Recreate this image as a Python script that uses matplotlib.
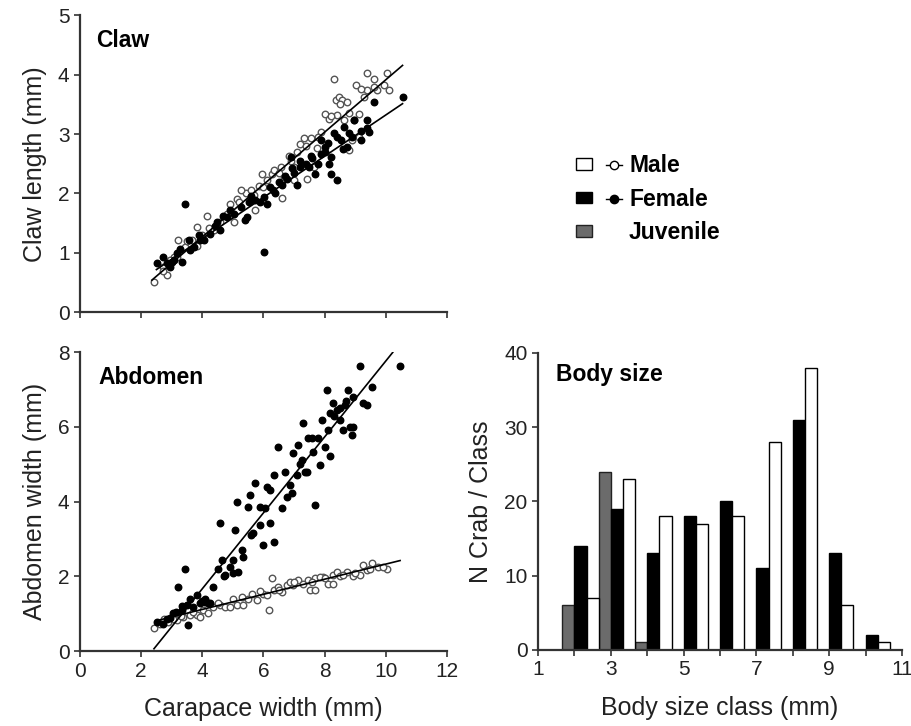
import numpy as np
import matplotlib
matplotlib.use('Agg')
import matplotlib.pyplot as plt
from matplotlib.patches import Patch
from matplotlib.lines import Line2D
from matplotlib.legend_handler import HandlerTuple

plt.rcParams['font.family'] = ['Liberation Sans', 'DejaVu Sans']

# claw length vs carapace width
claw_male_x = [2.43, 2.84, 2.73, 3.22, 3.06, 3.44, 3.83, 4.15, 4.21, 4.59, 4.92, 5.14, 5.03, 5.44, 5.74,
               5.85, 6.12, 6.28, 6.61, 6.56, 6.83, 7.0, 7.21, 7.32, 7.54, 7.43, 7.65, 7.87, 8.03, 8.14,
               8.31, 8.36, 8.47, 8.58, 8.74, 8.42, 8.63, 8.8, 8.96, 9.02, 9.13, 9.29, 9.40, 9.62, 9.40,
               9.73, 10.05, 10.11, 9.95, 8.91, 9.13, 7.76, 7.0, 6.67, 6.34, 5.96, 5.68, 5.25, 4.81, 4.37,
               3.83, 3.66, 3.17, 2.95,
               5.2, 5.6, 6.0, 6.5, 6.9, 7.1, 7.4, 7.8, 8.2, 8.5, 8.8, 9.2, 9.6, 4.0, 3.5, 2.7]
claw_male_y = [0.51, 0.62, 0.76, 1.22, 0.93, 1.10, 1.11, 1.62, 1.41, 1.52, 1.82, 1.91, 1.52, 2.01, 1.72,
               2.13, 2.22, 2.33, 1.93, 2.45, 2.63, 2.45, 2.84, 2.94, 2.94, 2.25, 2.45, 3.04, 3.34, 3.26,
               3.93, 3.57, 3.63, 3.57, 3.54, 3.32, 3.23, 2.73, 3.23, 3.82, 3.34, 3.63, 4.03, 3.93, 3.74,
               3.74, 4.03, 3.74, 3.82, 2.90, 2.95, 2.76, 2.22, 2.28, 2.39, 2.33, 1.97, 2.05, 1.66, 1.38,
               1.44, 1.21, 0.93, 0.88,
               1.85, 2.05, 2.10, 2.35, 2.55, 2.70, 2.80, 2.95, 3.30, 3.50, 3.35, 3.75, 3.80, 1.30, 1.20, 0.70]
claw_female_x = [2.51, 2.73, 2.95, 3.17, 3.33, 3.44, 3.55, 3.72, 4.04, 4.26, 4.48, 4.68, 4.92, 5.03, 5.25,
                 5.41, 5.52, 5.74, 6.01, 6.01, 6.12, 6.23, 6.39, 6.61, 6.78, 6.94, 7.1, 7.21, 7.38, 7.54,
                 7.70, 7.87, 8.03, 8.14, 8.20, 8.42, 8.31, 8.53, 8.63, 8.80, 8.96, 8.74, 9.18, 9.40, 9.45,
                 9.62, 10.55, 8.20, 7.87, 6.89, 5.46, 4.59, 3.93, 2.84, 3.06, 3.28,
                 5.6, 5.9, 6.3, 6.5, 6.7, 7.0, 7.2, 7.5, 7.6, 7.8, 8.0, 8.1, 8.4, 8.6, 8.9, 9.2, 9.4,
                 4.8, 4.4, 3.9, 3.6, 3.0]
claw_female_y = [0.82, 0.93, 0.76, 0.99, 0.85, 1.82, 1.22, 1.10, 1.21, 1.32, 1.52, 1.62, 1.72, 1.66, 1.77,
                 1.55, 1.86, 1.89, 1.94, 1.02, 1.82, 2.11, 2.00, 2.14, 2.25, 2.42, 2.14, 2.45, 2.50, 2.63,
                 2.33, 2.67, 2.78, 2.50, 2.33, 2.22, 3.01, 2.90, 3.12, 3.01, 3.23, 2.78, 2.90, 3.23, 3.04,
                 3.54, 3.63, 2.62, 2.90, 2.62, 1.60, 1.38, 1.21, 0.82, 0.88, 1.07,
                 1.95, 1.85, 2.05, 2.20, 2.30, 2.35, 2.55, 2.45, 2.60, 2.50, 2.70, 2.85, 2.95, 2.75, 2.95,
                 3.05, 3.10, 1.60, 1.45, 1.30, 1.05, 0.85]

# abdomen width vs carapace width
abd_female_x = [2.51, 2.73, 2.84, 3.05, 3.22, 3.33, 3.44, 3.49, 3.60, 3.82, 3.93, 4.09, 4.25, 4.36, 4.53,
                4.58, 4.63, 4.74, 4.91, 5.07, 5.13, 5.18, 5.29, 5.34, 5.51, 5.56, 5.67, 5.73, 5.89, 6.00,
                6.05, 6.11, 6.22, 6.33, 6.33, 6.49, 6.60, 6.71, 6.76, 6.92, 6.98, 7.09, 7.14, 7.25, 7.31,
                7.36, 7.47, 7.63, 7.69, 7.80, 7.91, 7.85, 8.02, 8.07, 8.18, 8.18, 8.29, 8.40, 8.51, 8.67,
                8.78, 8.83, 8.89, 8.94, 9.16, 9.27, 9.38, 9.54, 10.47, 8.94, 8.61, 8.12, 7.41, 6.87, 5.89,
                5.02, 4.09, 3.71, 3.54,
                2.95, 3.15, 3.35, 4.0, 4.2, 4.7, 5.0, 5.6, 6.2, 7.2, 7.6, 8.3, 8.5, 8.7]
abd_female_y = [0.79, 0.74, 0.875, 1.01, 1.72, 1.10, 2.21, 1.23, 1.41, 1.50, 1.28, 1.41, 1.28, 1.72, 2.21,
                3.42, 2.44, 2.04, 2.26, 3.24, 4.00, 2.12, 2.70, 2.53, 3.87, 4.18, 3.15, 4.49, 3.37, 2.84,
                3.82, 4.40, 3.42, 2.93, 4.71, 5.47, 3.82, 4.80, 4.13, 4.22, 5.29, 4.71, 5.52, 5.12, 6.10,
                4.80, 5.70, 5.34, 3.91, 5.70, 6.19, 4.98, 5.47, 6.99, 6.37, 5.21, 6.63, 6.46, 6.19, 6.59,
                6.99, 6.01, 5.79, 6.81, 7.62, 6.63, 6.59, 7.08, 7.62, 6.01, 5.92, 5.92, 4.80, 4.45, 3.87,
                2.44, 1.32, 1.19, 0.70,
                0.90, 1.05, 1.20, 1.35, 1.30, 2.00, 2.10, 3.10, 4.30, 5.00, 5.70, 6.30, 6.50, 6.70]
abd_male_x = [2.42, 2.62, 2.89, 3.16, 3.38, 3.60, 3.82, 4.03, 4.20, 4.36, 4.58, 4.74, 5.02, 5.13, 5.34,
              5.51, 5.62, 5.78, 6.00, 6.19, 6.27, 6.33, 6.49, 6.60, 6.76, 6.98, 7.14, 7.31, 7.47, 7.52,
              7.69, 7.69, 7.96, 8.12, 8.29, 8.40, 8.51, 8.72, 8.94, 9.16, 9.27, 9.38, 9.54, 9.76, 10.03,
              8.29, 7.85, 6.87, 6.11, 4.91, 3.93, 3.05,
              2.75, 3.3, 3.7, 4.5, 5.3, 5.9, 6.5, 7.0, 7.6, 8.0, 8.6, 9.0, 9.5, 9.9]
abd_male_y = [0.61, 0.74, 0.79, 0.83, 0.92, 0.96, 0.96, 1.10, 1.01, 1.19, 1.23, 1.19, 1.41, 1.23, 1.23,
              1.41, 1.54, 1.37, 1.54, 1.10, 1.95, 1.63, 1.72, 1.59, 1.77, 1.77, 1.90, 1.81, 1.90, 1.63,
              1.63, 1.95, 1.99, 1.81, 2.04, 2.12, 2.00, 2.12, 2.00, 2.04, 2.30, 2.17, 2.35, 2.26, 2.21,
              1.81, 1.99, 1.86, 1.50, 1.19, 0.92, 0.875,
              0.85, 0.95, 1.05, 1.30, 1.45, 1.60, 1.65, 1.85, 1.85, 1.95, 2.05, 2.10, 2.20, 2.25]

# regression lines: (slope, intercept, x_start, x_end)
claw_male_fit = (0.441, -0.497, 2.35, 10.55)
claw_female_fit = (0.347, -0.15, 2.5, 10.55)
abd_female_fit = (1.015, -2.39, 2.42, 10.23)
abd_male_fit = (0.202, 0.31, 2.5, 10.47)

# body size histogram
size_class = [2, 3, 4, 5, 6, 7, 8, 9, 10]
n_juvenile = [6, 24, 1, 0, 0, 0, 0, 0, 0]
n_female = [14, 19, 13, 18, 20, 11, 31, 13, 2]
n_male = [7, 23, 18, 17, 18, 28, 38, 6, 1]

txt = '#222222'
spine = '#333333'


def style_axes(ax):
    for s in ['top', 'right']:
        ax.spines[s].set_visible(False)
    for s in ['left', 'bottom']:
        ax.spines[s].set_color(spine)
        ax.spines[s].set_linewidth(1.6)
    ax.tick_params(direction='out', length=4, width=1.2, color=spine,
                   labelsize=15, labelcolor=txt)


def fit_line(ax, fit):
    k, b, x0, x1 = fit
    xs = np.array([x0, x1])
    ax.plot(xs, k * xs + b, color='black', lw=1.2, zorder=4)


fig = plt.figure(figsize=(9.12, 7.26), dpi=100)

# claw panel
ax1 = fig.add_axes([0.0877, 0.570, 0.4023, 0.409])
style_axes(ax1)
ax1.scatter(claw_male_x, claw_male_y, s=22, facecolors='white', edgecolors='#555555', linewidths=1.0, zorder=2)
ax1.scatter(claw_female_x, claw_female_y, s=22, color='black', zorder=3)
fit_line(ax1, claw_male_fit)
fit_line(ax1, claw_female_fit)
ax1.set_xlim(0, 12)
ax1.set_ylim(0, 5)
ax1.set_xticks(range(0, 13, 2))
ax1.set_xticklabels([])
ax1.set_yticks(range(0, 6))
ax1.set_ylabel('Claw length (mm)', fontsize=18, color=txt, labelpad=8)
ax1.text(0.045, 0.955, 'Claw', transform=ax1.transAxes, fontsize=16.5,
         fontweight='bold', va='top', color='black')

# abdomen panel
ax2 = fig.add_axes([0.0877, 0.103, 0.4023, 0.412])
style_axes(ax2)
ax2.scatter(abd_male_x, abd_male_y, s=22, facecolors='white', edgecolors='#555555', linewidths=1.0, zorder=2)
ax2.scatter(abd_female_x, abd_female_y, s=22, color='black', zorder=3)
fit_line(ax2, abd_female_fit)
fit_line(ax2, abd_male_fit)
ax2.set_xlim(0, 12)
ax2.set_ylim(0, 8)
ax2.set_xticks(range(0, 13, 2))
ax2.set_yticks(range(0, 9, 2))
ax2.set_ylabel('Abdomen width (mm)', fontsize=18, color=txt, labelpad=8)
ax2.set_xlabel('Carapace width (mm)', fontsize=18, color=txt, labelpad=12)
ax2.text(0.05, 0.955, 'Abdomen', transform=ax2.transAxes, fontsize=16.5,
         fontweight='bold', va='top', color='black')

# histogram panel
ax3 = fig.add_axes([0.590, 0.105, 0.399, 0.409])
style_axes(ax3)
x = np.array(size_class, dtype=float)
w = 1 / 3
ax3.bar(x - w, n_juvenile, width=w, align='edge', color='#6b6b6b', edgecolor='#222222', linewidth=1)
ax3.bar(x, n_female, width=w, align='edge', color='black', edgecolor='black', linewidth=1)
ax3.bar(x + w, n_male, width=w, align='edge', color='white', edgecolor='black', linewidth=1)
ax3.set_xlim(1, 11)
ax3.set_ylim(0, 40)
ax3.set_xticks(range(1, 12))
ax3.set_xticklabels([str(v) if v % 2 == 1 else '' for v in range(1, 12)])
ax3.set_yticks(range(0, 41, 10))
ax3.set_ylabel('N Crab / Class', fontsize=18, color=txt, labelpad=8)
ax3.set_xlabel('Body size class (mm)', fontsize=18, color=txt, labelpad=12)
ax3.text(0.05, 0.965, 'Body size', transform=ax3.transAxes, fontsize=16.5,
         fontweight='bold', va='top', color='black')

# legend
h_male = (Patch(facecolor='white', edgecolor='black', linewidth=1),
          Line2D([], [], color='black', lw=1, marker='o', markersize=6,
                 markerfacecolor='white', markeredgecolor='black'))
h_female = (Patch(facecolor='black', edgecolor='black', linewidth=1),
            Line2D([], [], color='black', lw=1, marker='o', markersize=6,
                   markerfacecolor='black', markeredgecolor='black'))
h_juv = (Patch(facecolor='#6b6b6b', edgecolor='#222222', linewidth=1),
         Line2D([], [], color='none'))
fig.legend([h_male, h_female, h_juv], ['Male', 'Female', 'Juvenile'],
           handler_map={tuple: HandlerTuple(ndivide=None, pad=0.6)},
           loc='upper left', bbox_to_anchor=(0.622, 0.80), frameon=False,
           prop={'weight': 'bold', 'size': 16.5}, handlelength=2.0, handleheight=0.4,
           labelspacing=0.45, handletextpad=0.3, borderaxespad=0)

fig.savefig('out.png', dpi=100)
